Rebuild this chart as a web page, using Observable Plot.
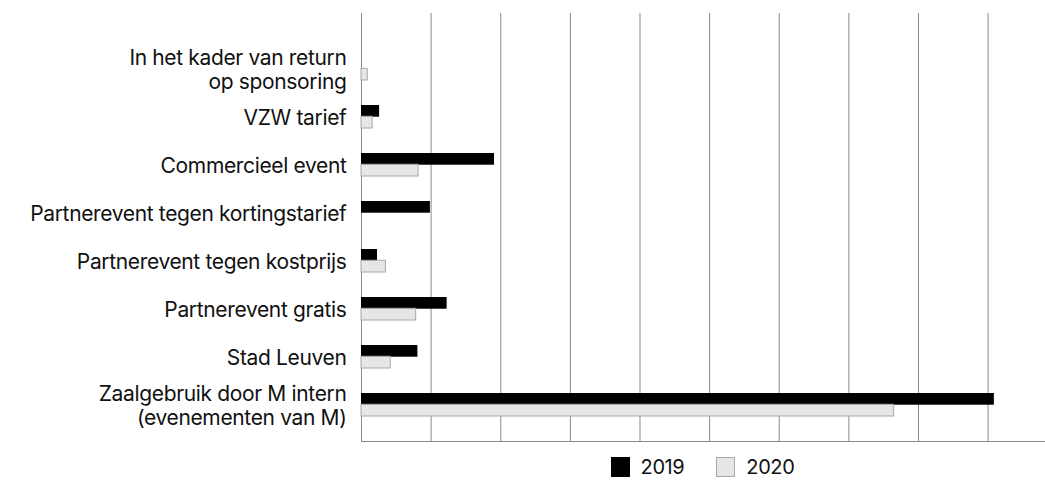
<!DOCTYPE html>
<html>
<head>
<meta charset="utf-8">
<script src="https://cdn.jsdelivr.net/npm/d3@7"></script>
<script src="https://cdn.jsdelivr.net/npm/@observablehq/plot@0.6"></script>
<style>
  body { margin: 0; background: #fff; font-family: Inter, "Noto Sans", sans-serif; }
  #chart svg { display: block; }
  #legend {
    width: 1045px; height: 33px; box-sizing: border-box; padding-left: 361px; padding-right: 1px;
    display: flex; justify-content: center; align-items: center;
    font-family: Inter, sans-serif; font-size: 20px; letter-spacing: -0.4px; color: #111;
  }
  .item { display: flex; align-items: center; margin: 0 16px; }
  .sw { width: 19px; height: 20px; box-sizing: border-box; margin-right: 11px; }
</style>
</head>
<body>
<div id="chart"></div>
<div id="legend"></div>
<script>
const categories = [
  "In het kader van return\nop sponsoring",
  "VZW tarief",
  "Commercieel event",
  "Partnerevent tegen kortingstarief",
  "Partnerevent tegen kostprijs",
  "Partnerevent gratis",
  "Stad Leuven",
  "Zaalgebruik door M intern\n(evenementen van M)"
];
const series2019 = [0, 2.6, 19.1, 9.9, 2.3, 12.3, 8.1, 90.9];
const series2020 = [0.9, 1.6, 8.2, 0, 3.5, 7.85, 4.2, 76.5];
const years = ["2019", "2020"];
const xTicks = [0, 10, 20, 30, 40, 50, 60, 70, 80, 90];
const xMax = 98.1;

const colors = {"2019": {fill: "#000000", stroke: "#000000"}, "2020": {fill: "#e6e6e6", stroke: "#a8a8a8"}};

const rows = categories.flatMap((c, i) => [
  {category: c, year: "2019", value: series2019[i]},
  {category: c, year: "2020", value: series2020[i]}
]);

const half = 11.3;

const chart = Plot.plot({
  width: 1045,
  height: 450,
  marginLeft: 361,
  marginRight: 1,
  marginTop: 13,
  marginBottom: 9,
  style: {fontFamily: "Inter, sans-serif", fontSize: "21px", color: "#111", background: "#fff", letterSpacing: "-0.35px"},
  x: {domain: [0, xMax], axis: null},
  y: {domain: categories, range: [44, 428], paddingInner: 0.53, paddingOuter: 0.265},
  marks: [
    Plot.gridX(xTicks, {stroke: "#8a8a8a", strokeOpacity: 1, strokeWidth: 1}),
    Plot.frame({anchor: "bottom", stroke: "#8a8a8a", strokeWidth: 1}),
    Plot.barX(rows.filter(d => d.year === "2019" && d.value > 0), {
      x: "value", y: "category", fill: colors["2019"].fill, insetBottom: half
    }),
    Plot.barX(rows.filter(d => d.year === "2020" && d.value > 0), {
      x: "value", y: "category", fill: colors["2020"].fill, stroke: colors["2020"].stroke, strokeWidth: 1, insetTop: half
    }),
    Plot.axisY({tickSize: 0, tickPadding: 15, lineHeight: 1.16, fontSize: 21, fill: "#111", label: null})
  ]
});
document.getElementById("chart").appendChild(chart);

const legend = document.getElementById("legend");
years.forEach(y => {
  const item = document.createElement("div");
  item.className = "item";
  const sw = document.createElement("div");
  sw.className = "sw";
  sw.style.background = colors[y].fill;
  sw.style.border = `1px solid ${colors[y].stroke}`;
  const t = document.createElement("span");
  t.textContent = y;
  item.appendChild(sw);
  item.appendChild(t);
  legend.appendChild(item);
});
</script>
</body>
</html>
